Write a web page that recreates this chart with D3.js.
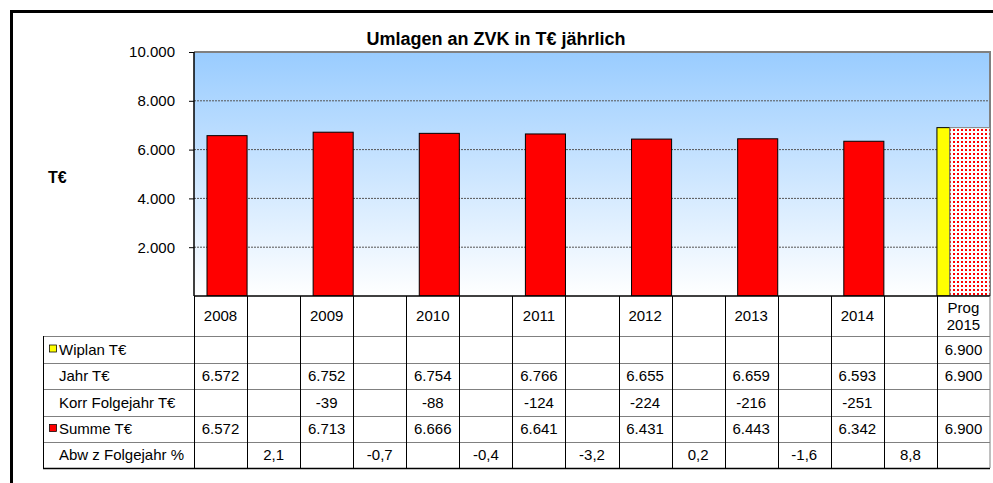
<!DOCTYPE html>
<html>
<head>
<meta charset="utf-8">
<script src="https://cdn.jsdelivr.net/npm/d3@7"></script>
<style>
  html, body { margin: 0; background: #fff; overflow: hidden; }
  svg { display: block; }
  text { font-family: "Liberation Sans", Arial, sans-serif; fill: #000; }
</style>
</head>
<body>
<div id="chart"></div>
<script>
// header labels of the 8 year columns
let years = ["2008", "2009", "2010", "2011", "2012", "2013", "2014", "Prog 2015"]
let wiplan = [null, null, null, null, null, null, null, 6900]
let jahr = [6572, 6752, 6754, 6766, 6655, 6659, 6593, 6900]
let korr = [null, -39, -88, -124, -224, -216, -251, null]
let summe = [6572, 6713, 6666, 6641, 6431, 6443, 6342, 6900]
// deviation sits in the gap column after each year
let abw = [2.1, -0.7, -0.4, -3.2, 0.2, -1.6, 8.8]
let yTicks = [2000, 4000, 6000, 8000, 10000]
let rowLabels = ["Wiplan T€", "Jahr T€", "Korr Folgejahr T€", "Summe T€", "Abw z Folgejahr %"]

const de = d3.formatLocale({decimal: ",", thousands: ".", grouping: [3], currency: ["", "€"], minus: "-"})
const fInt = de.format(",d")
const fDec = de.format(",.1f")

let width = 993
let height = 483
let pLeft = 194, pRight = 990, pTop = 52, pBottom = 296

let svg = d3.select("#chart")
    .append("svg")
    .attr("width", width)
    .attr("height", height)

let defs = svg.append("defs")
let grad = defs.append("linearGradient")
    .attr("id", "bg")
    .attr("x1", 0).attr("y1", 0).attr("x2", 0).attr("y2", 1)
grad.append("stop").attr("offset", "0%").attr("stop-color", "#99CCFF")
grad.append("stop").attr("offset", "100%").attr("stop-color", "#FFFFFF")

let pat = defs.append("pattern")
    .attr("id", "dots")
    .attr("patternUnits", "userSpaceOnUse")
    .attr("width", 8).attr("height", 8)
pat.append("rect").attr("width", 8).attr("height", 8).attr("fill", "#fff")
pat.append("rect").attr("x", 1).attr("y", 1).attr("width", 2).attr("height", 2).attr("fill", "#FF0000")
pat.append("rect").attr("x", 5).attr("y", 5).attr("width", 2).attr("height", 2).attr("fill", "#FF0000")
pat.append("rect").attr("x", 5).attr("y", 1).attr("width", 2).attr("height", 2).attr("fill", "#FF0000")
pat.append("rect").attr("x", 1).attr("y", 5).attr("width", 2).attr("height", 2).attr("fill", "#FF0000")

defs.append("clipPath").attr("id", "plotclip")
    .append("rect")
    .attr("x", pLeft).attr("y", pTop - 2)
    .attr("width", pRight - pLeft).attr("height", pBottom - pTop + 2)

// 15 columns: year, gap, year, gap, ...
let cols = d3.range(years.length * 2 - 1)
let x = d3.scaleBand().domain(cols).range([pLeft, pRight]).paddingInner(0).paddingOuter(0)
let y = d3.scaleLinear().domain([0, 10000]).range([pBottom, pTop])

// outer frame, runs off the right and bottom edge
svg.append("path")
    .attr("d", `M11.5,${height}V11.5H${width}`)
    .attr("fill", "none")
    .attr("stroke", "#000")
    .attr("stroke-width", 3)

svg.append("text")
    .attr("x", 496).attr("y", 45)
    .attr("text-anchor", "middle")
    .style("font-size", "18px")
    .style("font-weight", "bold")
    .text("Umlagen an ZVK in T€ jährlich")

svg.append("text")
    .attr("x", 48).attr("y", 183)
    .style("font-size", "16px")
    .style("font-weight", "bold")
    .text("T€")

svg.append("rect")
    .attr("x", pLeft).attr("y", pTop)
    .attr("width", pRight - pLeft).attr("height", pBottom - pTop)
    .attr("fill", "url(#bg)")

svg.append("g")
    .selectAll("line")
    .data(yTicks.slice(0, -1))
    .join("line")
    .attr("x1", pLeft).attr("x2", pRight)
    .attr("y1", d => y(d)).attr("y2", d => y(d))
    .attr("stroke", "#555")
    .attr("stroke-dasharray", "2,1")

// plot border top/right
svg.append("path")
    .attr("d", `M${pLeft},${pTop}H${pRight}V${pBottom}`)
    .attr("fill", "none")
    .attr("stroke", "#808080")
    .attr("stroke-width", 2)

let bars = svg.append("g").attr("clip-path", "url(#plotclip)")
let band = x.bandwidth()
let split = band * 0.245

bars.selectAll("rect.wip")
    .data(wiplan.map((v, i) => ({v, i})).filter(d => d.v != null))
    .join("rect")
    .attr("class", "wip")
    .attr("x", d => x(d.i * 2))
    .attr("y", d => y(d.v))
    .attr("width", split)
    .attr("height", d => pBottom - y(d.v))
    .attr("fill", "#FFFF00")
    .attr("stroke", "#000")

bars.selectAll("rect.sum")
    .data(summe.map((v, i) => ({v, i})))
    .join("rect")
    .attr("class", "sum")
    .attr("x", d => x(d.i * 2) + split)
    .attr("y", d => y(d.v))
    .attr("width", band - split)
    .attr("height", d => pBottom - y(d.v))
    .attr("fill", d => d.i == years.length - 1 ? "url(#dots)" : "#FF0000")
    .attr("stroke", d => d.i == years.length - 1 ? "#808080" : "#000")

let yAxis = svg.append("g")
    .attr("transform", `translate(${pLeft},0)`)
    .call(d3.axisLeft(y).tickValues(yTicks).tickFormat(fInt).tickSize(5).tickPadding(14))
yAxis.select(".domain").remove()
yAxis.selectAll("line").attr("stroke", "#000")
yAxis.selectAll("text")
    .style("font-size", "15px")
yAxis.attr("font-family", null).attr("font-size", null)

svg.append("line")
    .attr("x1", pLeft).attr("x2", pLeft)
    .attr("y1", pTop).attr("y2", pBottom)
    .attr("stroke", "#000").attr("stroke-width", 1.5)
svg.append("line")
    .attr("x1", pLeft).attr("x2", pRight)
    .attr("y1", pBottom).attr("y2", pBottom)
    .attr("stroke", "#000").attr("stroke-width", 1.5)

// data table
let rowTop = [296, 336, 363, 389, 416, 442, 468]
let labLeft = 43
let table = svg.append("g")

// horizontal lines
table.selectAll("line.h")
    .data(rowTop.slice(1))
    .join("line")
    .attr("class", "h")
    .attr("x1", labLeft).attr("x2", pRight)
    .attr("y1", d => d + 0.5).attr("y2", d => d + 0.5)
    .attr("stroke", (d, i) => i == rowTop.length - 2 ? "#000" : "#808080")
    .attr("stroke-width", (d, i) => i == rowTop.length - 2 ? 1.5 : 1)

// vertical lines
table.selectAll("line.v")
    .data(cols.concat([cols.length]))
    .join("line")
    .attr("class", "v")
    .attr("x1", d => d < cols.length ? Math.round(x(d)) + 0.5 : pRight)
    .attr("x2", d => d < cols.length ? Math.round(x(d)) + 0.5 : pRight)
    .attr("y1", pBottom).attr("y2", 468)
    .attr("stroke", d => d == cols.length ? "#808080" : "#000")
table.append("line")
    .attr("x1", labLeft + 0.5).attr("x2", labLeft + 0.5)
    .attr("y1", 336).attr("y2", 468)
    .attr("stroke", "#000")

// header row
let hdr = table.selectAll("text.hdr")
    .data(years)
    .join("text")
    .attr("class", "hdr")
    .attr("text-anchor", "middle")
    .style("font-size", "15px")
    .attr("x", (d, i) => x(i * 2) + band / 2)
hdr.each(function(d) {
    let parts = d.split(" ")
    let t = d3.select(this)
    if (parts.length == 1) {
        t.attr("y", 321).text(d)
    } else {
        t.attr("y", 313)
        parts.forEach((p, k) => t.append("tspan")
            .attr("x", t.attr("x"))
            .attr("dy", k == 0 ? 0 : 17)
            .text(p))
    }
})

// row labels and legend keys
table.selectAll("text.lab")
    .data(rowLabels)
    .join("text")
    .attr("class", "lab")
    .attr("x", 59)
    .attr("y", (d, i) => (rowTop[i + 1] + rowTop[i + 2]) / 2 + 5)
    .style("font-size", "15px")
    .text(d => d)

let keys = [{row: 0, c: "#FFFF00"}, {row: 3, c: "#FF0000"}]
table.selectAll("rect.key")
    .data(keys)
    .join("rect")
    .attr("class", "key")
    .attr("x", 49.5)
    .attr("y", d => (rowTop[d.row + 1] + rowTop[d.row + 2]) / 2 - 4.5)
    .attr("width", 7).attr("height", 7)
    .attr("fill", d => d.c)
    .attr("stroke", "#000")
    .attr("stroke-width", 0.75)

let rows = [wiplan, jahr, korr, summe]
let cells = []
rows.forEach((r, ri) => r.forEach((v, i) => {
    if (v != null) cells.push({col: i * 2, row: ri, s: fInt(v)})
}))
abw.forEach((v, i) => cells.push({col: i * 2 + 1, row: 4, s: fDec(v)}))

table.selectAll("text.val")
    .data(cells)
    .join("text")
    .attr("class", "val")
    .attr("text-anchor", "middle")
    .attr("x", d => x(d.col) + band / 2)
    .attr("y", d => (rowTop[d.row + 1] + rowTop[d.row + 2]) / 2 + 5)
    .style("font-size", "15px")
    .text(d => d.s)
</script>
</body>
</html>
